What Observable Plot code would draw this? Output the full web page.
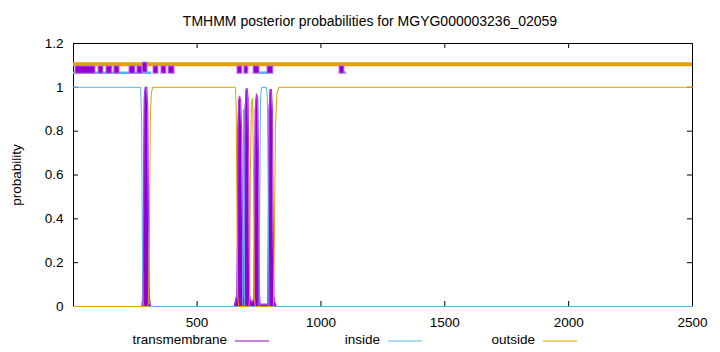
<!DOCTYPE html>
<html><head><meta charset="utf-8">
<script src="https://cdn.jsdelivr.net/npm/d3@7"></script>
<script src="https://cdn.jsdelivr.net/npm/@observablehq/plot@0.6"></script>
<style>
body{margin:0;background:#fff;font-family:"Liberation Sans",Arial,sans-serif;color:#000;}
#wrap{position:relative;width:720px;height:352px;overflow:hidden;}
#chart{position:absolute;left:0;top:0;}
#title{position:absolute;top:13px;left:370px;transform:translateX(-50%);white-space:nowrap;font-size:14px;}
.lt{position:absolute;top:332px;font-size:13.5px;white-space:nowrap;text-align:right;width:200px;}
.ls{position:absolute;top:336px;}
</style></head><body>
<div id="wrap"><div id="chart"></div><div id="title"></div><div id="legend"></div></div>
<script>
// ---- data ----
const title = "TMHMM posterior probabilities for MGYG000003236_02059";
const yLabel = "probability";
const seqLength = 2500;
const xTicks = [500, 1000, 1500, 2000, 2500];
const yTicks = [0, 0.2, 0.4, 0.6, 0.8, 1, 1.2];
const seriesNames = ["transmembrane", "inside", "outside"];
const seriesColors = ["#9400D3", "#56B4E9", "#E69F00"];

// transmembrane posterior probability
const tmPos  = [1, 278, 281, 284, 287, 291, 297, 301, 304, 307, 312, 650, 658, 661, 663, 665, 668, 672, 676, 680, 684, 687, 689, 691, 694, 698, 702, 706, 709, 712, 716, 722, 728, 730, 732, 735, 740, 745, 749, 752, 755, 770, 786, 788, 791, 795, 800, 804, 807, 810, 814, 820, 2500];
const tmProb = [0, 0,   0.05,0.5, 0.95,1.0, 1.0, 0.9, 0.4, 0.05,0,   0,   0.04,0.05,0.3, 0.8, 0.94,0.96,0.94,0.8, 0.3, 0.04,0.04,0.4, 0.9, 0.99,0.995,0.95,0.6, 0.05,0.03,0.02,0.03,0.03,0.4, 0.9, 0.97,0.95,0.6, 0.05,0.01,0.01,0.01,0.4, 0.9, 0.99,0.99,0.9, 0.4, 0.05,0.02,0,   0];

// inside posterior probability
const inPos  = [1, 272, 276, 279, 282, 286, 684, 686, 688, 690, 692, 750, 753, 756, 760, 780, 784, 787, 790, 2500];
const inProb = [1, 1,   0.85,0.3, 0.02,0,   0,   0.5, 0.9, 0.5, 0,   0,   0.5, 0.95,1.0, 1.0, 0.95,0.5, 0,   0];

// outside posterior probability
const outPos  = [1, 300, 304, 308, 311, 315, 320, 655, 658, 661, 664, 668, 710, 712, 715, 719, 724, 728, 731, 735, 808, 812, 816, 822, 830, 2500];
const outProb = [0, 0,   0.02,0.4, 0.85,0.97,1.0, 1.0, 0.9, 0.4, 0.05,0,   0,   0.05,0.6, 0.93,0.95,0.6, 0.05,0,   0,   0.3, 0.8, 0.97,1.0, 1.0];

// predicted topology track at the top
const trackOutStart = [1],   trackOutEnd = [2500];
const trackInStart  = [1, 752, 1095], trackInEnd = [317, 785, 1104];
const tmBoxStart = [9,  102, 134, 166, 227, 259, 324, 356, 385, 663, 691, 728, 784, 1075];
const tmBoxEnd   = [90, 122, 158, 187, 251, 280, 344, 376, 409, 683, 707, 752, 808, 1095];
const tmBigStart = [280], tmBigEnd = [300];
const trackOutY = 1.105, trackInY = 1.067, boxLow = 1.062, boxHigh = 1.096, bigLow = 1.067, bigHigh = 1.113;

// ---- build tables ----
const zip = (p, v) => p.map((x, i) => ({x, y: v[i]}));
const tm = zip(tmPos, tmProb), inside = zip(inPos, inProb), outside = zip(outPos, outProb);
const segs = (s, e) => s.map((a, i) => ({start: a, end: e[i]}));

const W = 720, H = 352, mL = 73, mR = 28, mT = 43, mB = 46;
const plotW = W - mL - mR, plotH = H - mT - mB;
const [cTM, cIn, cOut] = seriesColors;

const chart = Plot.plot({
  width: W, height: H, marginLeft: mL, marginRight: mR, marginTop: mT, marginBottom: mB,
  x: {domain: [1, seqLength]},
  y: {domain: [0, 1.2]},
  style: {fontFamily: "'Liberation Sans', Arial, sans-serif", fontSize: "13.5px", color: "#000", background: "#fff"},
  marks: [
    Plot.frame({stroke: "#000"}),
    Plot.tickY(yTicks, {y: d => d, insetRight: plotW - 5, stroke: "#000"}),
    Plot.tickY(yTicks, {y: d => d, insetLeft: plotW - 5, stroke: "#000"}),
    Plot.tickX(xTicks, {x: d => d, insetTop: plotH - 5, stroke: "#000"}),
    Plot.tickX(xTicks, {x: d => d, insetBottom: plotH - 5, stroke: "#000"}),
    Plot.axisX(xTicks, {tickSize: 0, tickPadding: 11, tickFormat: d3.format("d"), label: null}),
    Plot.axisY(yTicks, {tickSize: 0, tickPadding: 10, tickFormat: d3.format("~g"), label: null}),
    Plot.text([yLabel], {text: d => d, frameAnchor: "left", textAnchor: "middle", dx: -57, rotate: -90}),
    // topology track
    Plot.ruleY(segs(trackOutStart, trackOutEnd), {x1: "start", x2: "end", y: () => trackOutY, stroke: cOut, strokeWidth: 4}),
    Plot.ruleY(segs(trackInStart, trackInEnd), {x1: "start", x2: "end", y: () => trackInY, stroke: cIn, strokeWidth: 2.5}),
    Plot.rect(segs(tmBoxStart, tmBoxEnd), {x1: "start", x2: "end", y1: () => boxLow, y2: () => boxHigh, fill: cTM, stroke: "#c07ae6", strokeWidth: 1}),
    Plot.rect(segs(tmBigStart, tmBigEnd), {x1: "start", x2: "end", y1: () => bigLow, y2: () => bigHigh, fill: cTM, stroke: "#c07ae6", strokeWidth: 1}),
    // posterior probabilities
    Plot.areaY(tm, {x: "x", y: "y", fill: cTM}),
    Plot.line(tm, {x: "x", y: "y", stroke: "#a93ee0", strokeWidth: 1.2}),
    Plot.line(inside, {x: "x", y: "y", stroke: cIn, strokeWidth: 1}),
    Plot.line(outside, {x: "x", y: "y", stroke: cOut, strokeWidth: 1})
  ]
});
document.getElementById("chart").appendChild(chart);
document.getElementById("title").textContent = title;

// legend below the plot
const legendTextEnd = [227, 380, 535];
const lg = document.getElementById("legend");
const NS = "http://www.w3.org/2000/svg";
seriesNames.forEach((name, i) => {
  const t = document.createElement("div");
  t.className = "lt";
  t.style.left = (legendTextEnd[i] - 200) + "px";
  t.textContent = name;
  lg.appendChild(t);
  const s = document.createElementNS(NS, "svg");
  s.setAttribute("class", "ls");
  s.setAttribute("width", "36");
  s.setAttribute("height", "10");
  s.style.left = (legendTextEnd[i] + 8) + "px";
  const ln = document.createElementNS(NS, "line");
  ln.setAttribute("x1", "0"); ln.setAttribute("x2", "34");
  ln.setAttribute("y1", "5"); ln.setAttribute("y2", "5");
  ln.setAttribute("stroke", seriesColors[i]);
  ln.setAttribute("stroke-width", "1");
  s.appendChild(ln);
  lg.appendChild(s);
});
</script>
</body></html>
